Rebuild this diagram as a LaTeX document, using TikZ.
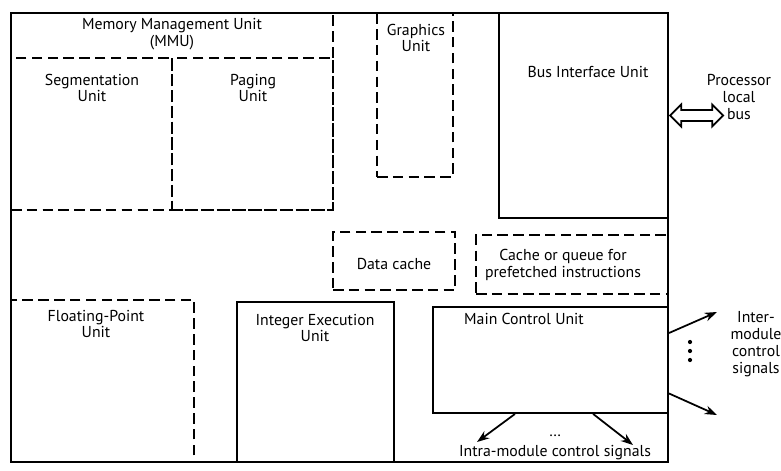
\documentclass[tikz,border=0pt]{standalone}
\usepackage{fontspec}
\setmainfont{PT Sans}
\usetikzlibrary{positioning,fit,calc,shapes.arrows,arrows.meta}

\begin{document}
\begin{tikzpicture}[x=0.02cm,y=-0.02cm]
   \useasboundingbox (0,0) rectangle (781,470);
   \fontsize{9}{9.6}\selectfont
   \tikzstyle{unit}=[draw=black, line width=1.1pt, inner sep=0pt]
   \tikzstyle{sub}=[unit, line width=1pt, dash pattern=on 6pt off 3pt]
   \tikzstyle{txt}=[align=center, inner sep=0pt]
   \tikzstyle{sig}=[-{Stealth[length=7pt,width=5pt]}, line width=1pt]
   \node[unit, fit={(11,13) (668,462)}] (chip) {};
   % memory management
   \node[sub, fit={(11,13) (333,210)}] (mmu) {};
   \node[sub, fit={(11,58) (172,210)}] (seg) {};
   \node[sub, fit={(172,58) (333,210)}] (paging) {};
   \node[txt] (mmulabel) at (172,34) {Memory Management Unit\\(MMU)};
   \node[txt] (seglabel) at (92,88) {Segmentation\\Unit};
   \node[txt] (paginglabel) at (253,88) {Paging\\Unit};
   % other units
   \node[sub, fit={(377,13) (453,177)}] (graphics) {};
   \node[txt] (graphicslabel) at (416,38) {Graphics\\Unit};
   \node[unit, fit={(499,13) (668,218)}] (biu) {};
   \node[txt] (biulabel) at (588,72) {Bus Interface Unit};
   \node[sub, fit={(333,232) (455,290)}] (dcache) {};
   \node[txt] (dcachelabel) at (394,264) {Data cache};
   \node[sub, fit={(476,235) (668,294)}] (queue) {};
   \node[txt] (queuelabel) at (563,265) {Cache or queue for\\prefetched instructions};
   \node[sub, fit={(11,300) (194,462)}] (fpu) {};
   \node[txt] (fpulabel) at (96,324) {Floating-Point\\Unit};
   \node[unit, fit={(237,302) (394,462)}] (ieu) {};
   \node[txt] (ieulabel) at (315,328) {Integer Execution\\Unit};
   \node[unit, fit={(433,307) (668,413)}] (mcu) {};
   \node[txt] (mculabel) at (524,319) {Main Control Unit};
   % processor bus
   \node[double arrow, draw, line width=1pt, minimum width=0.42cm, minimum height=1.06cm,
         double arrow head extend=0.11cm, inner sep=2.6pt, anchor=west] (bus) at (biu.east) {};
   \node[txt] (buslabel) at (739,97) {Processor\\local\\bus};
   % control signals
   \coordinate (inter1) at (717,312);
   \coordinate (inter2) at (717,415);
   \coordinate (intra1) at (477,442);
   \coordinate (intra2) at (633,445);
   \draw[sig] ($(mcu.north east)!0.25!(mcu.south east)$) -- (inter1);
   \draw[sig] ($(mcu.north east)!0.81!(mcu.south east)$) -- (inter2);
   \draw[sig] ($(mcu.south west)!0.35!(mcu.south east)$) -- (intra1);
   \draw[sig] ($(mcu.south west)!0.68!(mcu.south east)$) -- (intra2);
   \foreach \y in {342,351,360} \fill (690,\y) circle (1.2pt);
   \node[txt] (interlabel) at (756,344) {Inter-\\module\\control\\signals};
   \node[txt] (intradots) at (555,436) {\ldots};
   \node[txt] (intralabel) at (555,453) {Intra-module control signals};
\end{tikzpicture}
\end{document}
